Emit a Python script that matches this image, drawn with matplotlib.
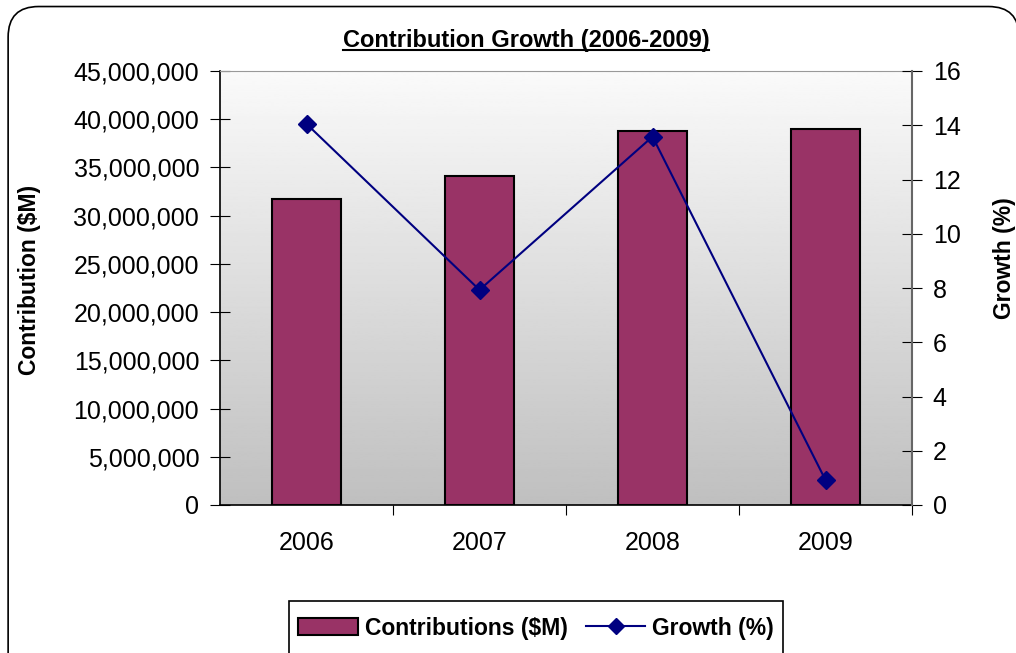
import numpy as np
import matplotlib.pyplot as plt
from matplotlib.patches import FancyBboxPatch, Rectangle
from matplotlib.lines import Line2D
from matplotlib.ticker import FuncFormatter

plt.rcParams['font.family'] = ['Liberation Sans', 'DejaVu Sans']

# Data
years = ['2006', '2007', '2008', '2009']
contributions = [31700000, 34100000, 38800000, 39000000]
growth = [14.05, 7.93, 13.58, 0.92]

fig = plt.figure(figsize=(10.16, 6.53), dpi=100)

# rounded outer frame
frame = FancyBboxPatch((0.008, -0.05), 0.995, 1.04, boxstyle='round,pad=0,rounding_size=0.03',
                       transform=fig.transFigure, facecolor='white', edgecolor='black',
                       linewidth=1.2, mutation_aspect=1016 / 653, zorder=-10)
fig.patches.append(frame)

ax = fig.add_axes([220 / 1016, 1 - 505 / 653, 692 / 1016, 434 / 653])
x = np.arange(len(years))

# gradient background
grad = np.linspace(0.98, 0.75, 256).reshape(-1, 1)
ax.imshow(grad, cmap='gray', vmin=0, vmax=1, aspect='auto',
          extent=(-0.5, 3.5, 0, 45000000), origin='upper', zorder=0)

ax.bar(x, contributions, width=0.4, color='#993366', edgecolor='black', linewidth=1.5, zorder=2)
ax.set_xlim(-0.5, 3.5)
ax.set_ylim(0, 45000000)
ax.set_yticks(np.arange(0, 45000001, 5000000))
ax.yaxis.set_major_formatter(FuncFormatter(lambda v, p: f'{v:,.0f}'))
ax.tick_params(axis='y', direction='inout', length=14, labelsize=18, pad=8)

ax.set_xticks([0.5, 1.5, 2.5, 3.5])
ax.set_xticklabels([])
ax.set_xticks(x, minor=True)
ax.set_xticklabels(years, minor=True)
ax.tick_params(axis='x', which='major', direction='out', length=7)
ax.tick_params(axis='x', which='minor', length=0, labelsize=18, pad=19)

ax.spines['top'].set_color('#999999')
ax.spines['right'].set_visible(False)
ax.spines['left'].set_linewidth(1.2)
ax.spines['bottom'].set_linewidth(1.2)

ax2 = ax.twinx()
ax2.plot(x, growth, color='#000080', marker='D', markersize=9, linewidth=1.5, zorder=5)
ax2.set_ylim(0, 16)
ax2.set_yticks(np.arange(0, 17, 2))
ax2.tick_params(axis='y', direction='inout', length=14, labelsize=18, pad=8)
ax2.spines['right'].set_color('#666666')
ax2.spines['right'].set_linewidth(1.5)
for s in ['top', 'left', 'bottom']:
    ax2.spines[s].set_visible(False)

# axis titles
fig.text(30 / 1016, 1 - 280 / 653, 'Contribution ($M)', rotation=90, ha='center', va='center',
         fontsize=16.5, fontweight='bold')
fig.text(1005 / 1016, 1 - 258 / 653, 'Growth (%)', rotation=90, ha='center', va='center',
         fontsize=16.5, fontweight='bold')

# underlined title
title = fig.text(526 / 1016, 1 - 40 / 653, 'Contribution Growth (2006-2009)', ha='center', va='center',
                 fontsize=17, fontweight='bold')
fig.canvas.draw()
bb = title.get_window_extent().transformed(fig.transFigure.inverted())
fig.add_artist(Line2D([bb.x0, bb.x1], [bb.y0 + 0.002, bb.y0 + 0.002], color='black',
                      linewidth=1.5, transform=fig.transFigure))

# legend box
fig.patches.append(Rectangle((289 / 1016, -0.05), 494 / 1016, 0.05 + 52 / 653, transform=fig.transFigure,
                             facecolor='white', edgecolor='black', linewidth=1.2))
handles = [Rectangle((0, 0), 1, 1, facecolor='#993366', edgecolor='black', linewidth=1.5),
           Line2D([], [], color='#000080', marker='D', markersize=8, linewidth=1.5)]
fig.legend(handles, ['Contributions ($M)', 'Growth (%)'], loc='center',
           bbox_to_anchor=(536 / 1016, 1 - 628 / 653), ncol=2, frameon=False,
           prop={'weight': 'bold', 'size': 16.5}, handlelength=2.6, handletextpad=0.3,
           columnspacing=0.8)

plt.savefig('out.png', dpi=100)
